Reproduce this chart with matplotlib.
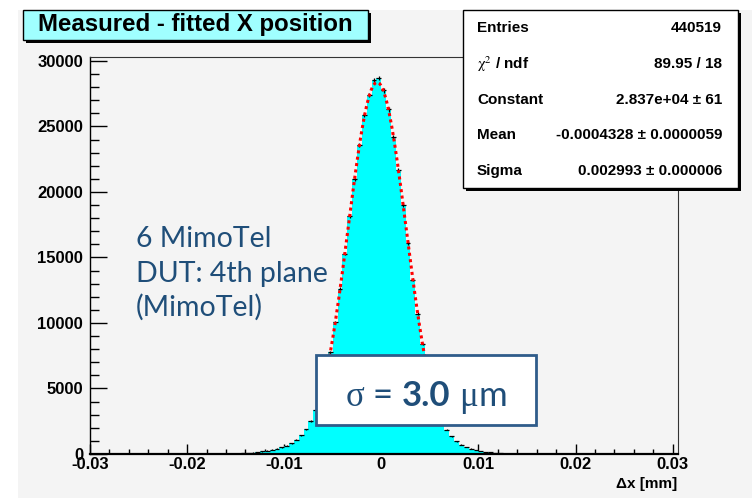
import matplotlib
matplotlib.use("Agg")
import matplotlib.pyplot as plt
import numpy as np
from matplotlib.patches import Rectangle
from matplotlib.ticker import MultipleLocator

plt.rcParams["mathtext.fontset"] = "stix"

# histogram of measured - fitted x position, 0.0005 mm bins starting at -0.0145
BIN_START = -0.0145
BIN_WIDTH = 0.0005
COUNTS = [60, 80, 110, 150, 200, 260, 330, 410, 510, 640,
          820, 1080, 1430, 1900, 2520, 3380, 4450, 5900, 7750, 10050,
          12600, 15300, 18150, 21000, 23600, 25850, 27400, 28550, 28700, 27750,
          26300, 24200, 21700, 19000, 16100, 13300, 10700, 8400, 6400, 4800,
          3550, 2600, 1850, 1340, 980, 720, 540, 400, 300, 220,
          160, 115, 80, 55, 35, 20]

# gaussian fit parameters (from the stat box)
FIT_CONSTANT = 2.837e4
FIT_MEAN = -0.0004328
FIT_SIGMA = 0.002993
FIT_RANGE = (-0.006, 0.0045)

STAT_LABELS = ["Entries", r"$\mathrm{\chi}^2$ / ndf", "Constant", "Mean", "Sigma"]
STAT_VALUES = ["440519", "89.95 / 18", "2.837e+04 ± 61",
               "-0.0004328 ± 0.0000059", "0.002993 ± 0.000006"]

X_TICKS = [-0.03, -0.02, -0.01, 0, 0.01, 0.02, 0.03]
X_TICK_LABELS = ["-0.03", "-0.02", "-0.01", "0", "0.01", "0.02", "0.03"]
Y_TICKS = [0, 5000, 10000, 15000, 20000, 25000, 30000]
Y_TICK_LABELS = ["0", "5000", "10000", "15000", "20000", "25000", "30000"]

TITLE = "Measured - fitted X position"
X_LABEL = "Δx [mm]"
NOTE_LINES = ["6 MimoTel", "DUT: 4th plane", "(MimoTel)"]

W, H = 752, 498
BLUE = "#1f4e79"


def fx(px):
    return px / W


def fy(py):
    return 1 - py / H


def box(x0, y0, x1, y1, face, edge="black", lw=1.0, shadow=True, z=5):
    if shadow:
        fig.add_artist(Rectangle((fx(x0 + 3), fy(y1 + 3)), fx(x1) - fx(x0), fy(y0) - fy(y1),
                                 transform=fig.transFigure, facecolor="black",
                                 edgecolor="none", zorder=z))
    fig.add_artist(Rectangle((fx(x0), fy(y1)), fx(x1) - fx(x0), fy(y0) - fy(y1),
                             transform=fig.transFigure, facecolor=face,
                             edgecolor=edge, lw=lw, zorder=z + 0.1))


fig = plt.figure(figsize=(7.52, 4.98), dpi=100)
fig.patch.set_facecolor("white")
fig.add_artist(Rectangle((fx(18), 0), 1 - fx(18), fy(10), transform=fig.transFigure,
                         facecolor="#f4f4f4", edgecolor="none", zorder=-1))

ax = fig.add_axes([fx(90), fy(454), fx(678) - fx(90), fy(57) - fy(454)])
ax.set_facecolor("#f4f4f4")

edges = BIN_START + BIN_WIDTH * np.arange(len(COUNTS) + 1)
centers = edges[:-1] + BIN_WIDTH / 2
ax.stairs(COUNTS, edges, fill=True, color="#00ffff", zorder=2)
ax.errorbar(centers, COUNTS, xerr=BIN_WIDTH / 2, yerr=np.sqrt(COUNTS), fmt="none",
            ecolor="black", elinewidth=0.9, zorder=3)

xf = np.linspace(FIT_RANGE[0], FIT_RANGE[1], 300)
yf = FIT_CONSTANT * np.exp(-0.5 * ((xf - FIT_MEAN) / FIT_SIGMA) ** 2)
ax.plot(xf, yf, color="red", lw=2.2, ls=(0, (1, 1.1)), zorder=4)

ax.set_xlim(-0.03, 0.03055)
ax.set_ylim(0, 30300)
tick_font = dict(family="Liberation Sans", weight="bold", size=12)
ax.set_xticks(X_TICKS)
ax.set_xticklabels(X_TICK_LABELS, fontdict=tick_font)
ax.set_yticks(Y_TICKS)
ax.set_yticklabels(Y_TICK_LABELS, fontdict=tick_font)
ax.xaxis.set_minor_locator(MultipleLocator(0.002))
ax.yaxis.set_minor_locator(MultipleLocator(1000))
ax.tick_params(which="both", direction="in", top=False, right=False, width=1)
ax.tick_params(axis="x", which="major", length=7.2, pad=2)
ax.tick_params(axis="x", which="minor", length=3.6)
ax.tick_params(axis="y", which="major", length=12, pad=5)
ax.tick_params(axis="y", which="minor", length=6.5)
ax.spines["bottom"].set_linewidth(1.6)
ax.spines["left"].set_linewidth(1.0)
for s in ["top", "right"]:
    ax.spines[s].set_linewidth(0.8)
    ax.spines[s].set_color("#333333")

fig.text(fx(677), fy(484), X_LABEL, ha="right", va="center",
         family="Liberation Sans", weight="bold", size=11)

# title box
box(23, 10, 368, 40, "#a0ffff")
fig.text(fx(195), fy(25), TITLE, ha="center", va="center",
         family="Liberation Sans", weight="bold", size=17.3, zorder=6)

# stat box
box(463, 10, 738, 188, "white")
row_y = [28, 64, 100, 135, 171]
for lab, val, yy in zip(STAT_LABELS, STAT_VALUES, row_y):
    fig.text(fx(477), fy(yy), lab, ha="left", va="center",
             family="Liberation Sans", weight="bold", size=11, zorder=6)
    fig.text(fx(722), fy(yy), val, ha="right", va="center",
             family="Liberation Sans", weight="bold", size=11, zorder=6)

# note text
for line, yy in zip(NOTE_LINES, [247, 282, 316]):
    fig.text(fx(136), fy(yy), line, ha="left", va="baseline",
             family="Lato", size=20.5, color=BLUE, zorder=6)

# sigma box
box(316, 355, 536, 425, "white", edge="#2f5c8a", lw=2.0, shadow=False)
pieces = [("σ", dict(family="Liberation Serif")), (" = ", dict(family="Lato")),
          ("3.0", dict(family="Lato", weight="bold")), (" ", dict(family="Lato")),
          ("μ", dict(family="Liberation Serif")), ("m", dict(family="Lato"))]
texts = [fig.text(0, fy(406), s, va="baseline", ha="left", size=25, color=BLUE,
                  zorder=7, **kw) for s, kw in pieces]
fig.canvas.draw()
r = fig.canvas.get_renderer()
widths = [t.get_window_extent(r).width for t in texts]
x = 426 - sum(widths) / 2
for t, w in zip(texts, widths):
    t.set_x(fx(x))
    x += w

fig.savefig("out.png", dpi=100)
